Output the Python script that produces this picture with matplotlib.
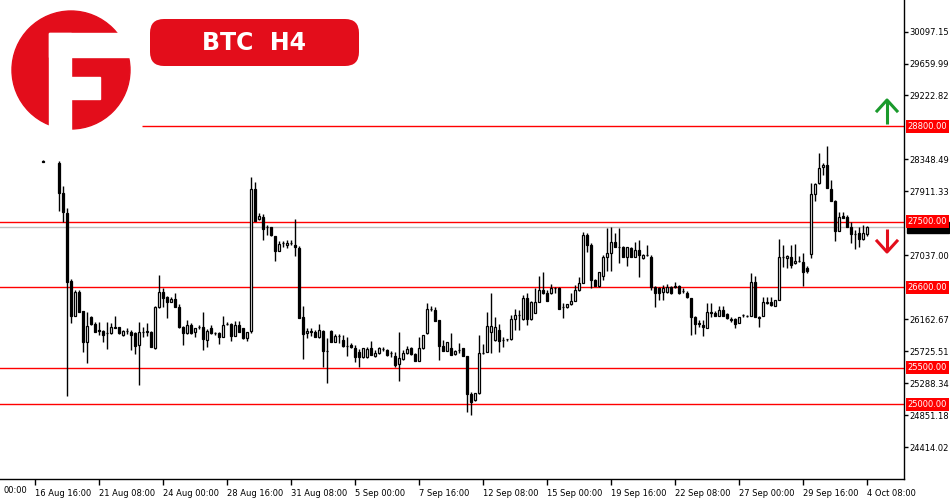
import numpy as np
import matplotlib
matplotlib.use("Agg")
from matplotlib import pyplot as plt
from matplotlib.patches import Circle, Rectangle, FancyBboxPatch

nan = np.nan
# BTC H4 candles, one value per bar (weekend bars are absent in the feed)
opens = [28327, nan, nan, nan, 28304, 27894, 27621, 26687, 26213, 26541,
         26277, 25858, 26191, 26095, 26011, 26004, 25977, 25973, 26052, 26054,
         25950, 26004, 25995, 25981, 25813, 25995, 25992, 25995, 25775, 26336,
         26537, 26473, 26405, 26441, 26336, 26063, 25973, 26086, 25986, 26052,
         26063, 25881, 26041, 25974, 25981, 25926, 26098, 26100, 25940, 26086,
         26041, 25904, 26004, 27941, 27531, 27566, 27423, 27421, 27302, 27097,
         27204, 27179, 27204, 27179, 27143, 26191, 25973, 25998, 25995, 25926,
         26008, 25737, 26008, 25858, 25936, 25881, 25799, 25813, 25767, 25717,
         25645, 25649, 25767, 25662, 25699, 25755, 25744, 25702, 25662, 25549,
         25621, 25699, 25767, 25689, 25597, 25767, 25973, 26302, 26291, 26154,
         25799, 25735, 25767, 25685, 25744, 25767, 25662, 25138, 25061, 25153,
         25707, 25721, 25995, 25881, 26018, 25881, 25888, 25891, 26164, 26223,
         26164, 26451, 26164, 26254, 26405, 26564, 26519, 26519, 26587, 26587,
         26330, 26328, 26373, 26418, 26564, 26665, 27316, 27179, 26701, 26619,
         26756, 27011, 27074, 27225, 27148, 27148, 27020, 27134, 27020, 27111,
         26998, 27043, 27016, 26601, 26587, 26541, 26541, 26601, 26619, 26619,
         26557, 26527, 26451, 26199, 26109, 26086, 26049, 26268, 26246, 26213,
         26291, 26232, 26164, 26168, 26117, 26216, 26209, 26213, 26670, 26199,
         26213, 26391, 26400, 26350, 26428, 27011, 27002, 27020, 26929, 26961,
         26943, 26861, 27052, 27877, 28023, 28241, 28273, 27941, 27785, 27375,
         27576, 27558, 27421, 27330, 27339, 27257, 27330]
highs = [28341, nan, nan, nan, 28327, 27986, 27681, 26715, 26564, 26564,
         26277, 26260, 26209, 26131, 26131, 26018, 26131, 26120, 26209, 26059,
         26018, 26045, 26011, 25990, 26131, 26054, 26120, 26004, 26346, 26770,
         26587, 26476, 26473, 26519, 26369, 26079, 26154, 26117, 26045, 26086,
         26260, 26031, 26086, 25995, 25990, 26213, 26131, 26113, 26145, 26145,
         26051, 25990, 28105, 28045, 27613, 27603, 27453, 27432, 27309, 27238,
         27234, 27248, 27248, 27531, 27166, 26346, 26041, 26041, 26018, 26095,
         26018, 25908, 26018, 25963, 25963, 25950, 25918, 25840, 25813, 25758,
         25772, 25785, 25871, 25744, 25789, 25785, 25758, 25735, 25721, 25995,
         25744, 25799, 25785, 25710, 25926, 25950, 26391, 26342, 26336, 26154,
         25881, 25854, 25977, 25744, 25840, 25775, 25662, 25174, 25157, 25950,
         25826, 26268, 26519, 26199, 26100, 25926, 25895, 26223, 26301, 26291,
         26496, 26519, 26420, 26587, 26756, 26815, 26564, 26646, 26609, 26605,
         26382, 26373, 26519, 26633, 26746, 27361, 27343, 27207, 26715, 26815,
         27043, 27407, 27429, 27339, 27408, 27166, 27152, 27152, 27225, 27248,
         27056, 27179, 27043, 26619, 26605, 26633, 26646, 26619, 26678, 26633,
         26592, 26551, 26459, 26209, 26154, 26154, 26387, 26391, 26277, 26346,
         26346, 26250, 26199, 26175, 26199, 26230, 26223, 26801, 26756, 26209,
         26473, 26473, 26473, 26428, 27261, 27179, 27043, 27179, 27193, 27029,
         27074, 26893, 28031, 28031, 28433, 28304, 28532, 28068, 27794, 27635,
         27626, 27589, 27498, 27384, 27421, 27453, 27439]
lows = [28314, nan, nan, nan, 27644, 27498, 25115, 26113, 26209, 26264,
        25721, 25570, 26086, 25990, 25950, 25854, 25758, 25963, 26041, 25963,
        25936, 25963, 25744, 25689, 25266, 25922, 25940, 25785, 25758, 26319,
        26336, 26182, 26394, 26332, 26049, 25813, 25963, 25963, 25926, 26031,
        25744, 25789, 25963, 25950, 25826, 25922, 26086, 25871, 25929, 25990,
        25899, 25871, 25973, 27507, 27521, 27248, 27316, 27302, 26964, 27091,
        27148, 27134, 27186, 27029, 26177, 25617, 25908, 25936, 25922, 25915,
        25508, 25289, 25854, 25847, 25844, 25792, 25662, 25772, 25584, 25516,
        25635, 25635, 25676, 25649, 25689, 25737, 25669, 25653, 25508, 25325,
        25614, 25689, 25682, 25594, 25589, 25758, 25963, 26284, 26145, 25607,
        25731, 25726, 25676, 25682, 25699, 25662, 24901, 24856, 25047, 25143,
        25696, 25717, 25699, 25867, 25721, 25789, 25861, 25881, 26018, 26018,
        26154, 26086, 26154, 26250, 26400, 26516, 26418, 26510, 26519, 26301,
        26177, 26318, 26360, 26414, 26551, 26660, 27088, 26592, 26619, 26605,
        26701, 26828, 26828, 27148, 26929, 27020, 26893, 27020, 27016, 26746,
        26988, 27029, 26564, 26336, 26428, 26428, 26523, 26516, 26592, 26516,
        26523, 26455, 25949, 25963, 26059, 25936, 26045, 26199, 26209, 26209,
        26209, 26168, 26131, 26045, 26113, 26202, 26195, 26209, 26199, 26063,
        26209, 26373, 26346, 26346, 26421, 26883, 26865, 26861, 26920, 26947,
        26623, 26797, 27002, 27785, 28013, 28136, 27955, 27785, 27238, 27371,
        27544, 27421, 27202, 27120, 27157, 27248, 27302]
closes = [28320, nan, nan, nan, 27894, 27635, 26678, 26213, 26533, 26268,
          25858, 26076, 26095, 25995, 25998, 25950, 25973, 26054, 26049, 25973,
          26004, 26008, 25950, 25803, 25995, 25992, 25998, 25789, 26336, 26533,
          26459, 26405, 26441, 26336, 26054, 25973, 26086, 25973, 26041, 26059,
          25890, 26004, 25973, 25971, 25918, 26086, 26101, 25940, 26086, 25995,
          25904, 25986, 27941, 27511, 27576, 27394, 27419, 27316, 27101, 27193,
          27201, 27211, 27210, 27148, 26177, 25963, 26008, 25993, 25926, 26018,
          25735, 25733, 25858, 25936, 25938, 25799, 25802, 25781, 25645, 25645,
          25767, 25758, 25676, 25707, 25767, 25752, 25676, 25699, 25539, 25631,
          25707, 25754, 25689, 25597, 25767, 25950, 26300, 26299, 26145, 25799,
          25735, 25858, 25676, 25735, 25741, 25662, 25138, 25037, 25153, 25699,
          25703, 26072, 26072, 26063, 25871, 25878, 25892, 26164, 26223, 26219,
          26451, 26164, 26405, 26405, 26564, 26519, 26418, 26587, 26585, 26301,
          26327, 26373, 26418, 26564, 26665, 27316, 27179, 26701, 26619, 26815,
          27011, 27074, 27225, 27148, 27150, 27020, 27148, 27020, 27111, 27043,
          27043, 27045, 26601, 26527, 26527, 26587, 26601, 26527, 26601, 26527,
          26553, 26464, 26199, 26095, 26093, 26054, 26268, 26246, 26213, 26291,
          26213, 26177, 26161, 26100, 26199, 26219, 26212, 26670, 26199, 26177,
          26396, 26400, 26355, 26428, 27011, 27020, 27029, 26906, 26961, 26965,
          26815, 26828, 27872, 28009, 28228, 28273, 27955, 27785, 27375, 27566,
          27544, 27421, 27330, 27327, 27257, 27339, 27430]

# support / resistance levels and the current bid line
levels = [28800, 27500, 26600, 25500, 25000]
bid = 27421.35
price_ticks = [30097.15, 29659.99, 29222.82, 28348.49, 27911.33, 27037.00,
               26162.67, 25725.51, 25288.34, 24851.18, 24414.02]
date_labels = ['16 Aug 16:00', '21 Aug 08:00', '24 Aug 00:00',
               '28 Aug 16:00', '31 Aug 08:00', '5 Sep 00:00', '7 Sep 16:00',
               '12 Sep 08:00', '15 Sep 00:00', '19 Sep 16:00', '22 Sep 08:00',
               '27 Sep 00:00', '29 Sep 16:00', '4 Oct 08:00']
date_tick_pos = np.arange(-2, 207, 16)
first_label = '00:00'  # tail of the date label left of the visible window

RED = '#e30d1b'
LINE_RED = '#ff0000'

plt.rcParams['font.family'] = ['DejaVu Sans']
fig = plt.figure(figsize=(9.5, 5), dpi=100)
ax = fig.add_axes([0, 21 / 500, 904 / 950, 479 / 500])

o = np.array(opens, float)
h = np.array(highs, float)
l = np.array(lows, float)
c = np.array(closes, float)
h = np.fmax(h, np.fmax(o, c))
l = np.fmin(l, np.fmin(o, c))
x = np.arange(len(o))
ok = ~np.isnan(o)
up = c >= o

ax.vlines(x[ok], l[ok], h[ok], color='black', linewidth=1, zorder=3)
ax.bar(x[ok], np.abs(c - o)[ok], bottom=np.fmin(o, c)[ok], width=0.55,
       color=np.where(up, 'white', 'black')[ok], edgecolor='black',
       linewidth=0.9, zorder=4)

# horizontal levels
ax.axhline(bid, color='#c0c0c0', linewidth=1, zorder=1)
for lv in levels:
    if lv == 28800:
        ax.hlines(lv, 24.75, 216, color=LINE_RED, linewidth=1, zorder=2)
    else:
        ax.axhline(lv, color=LINE_RED, linewidth=1, zorder=2)

for s in ['left', 'top']:
    ax.spines[s].set_visible(False)
ax.spines['right'].set_linewidth(1)
ax.spines['bottom'].set_linewidth(1)

ax.yaxis.tick_right()
ax.set_yticks(price_ticks)
ax.set_yticklabels([f'{p:.2f}' for p in price_ticks])
ax.tick_params(axis='y', direction='out', length=3, width=1, pad=1, labelsize=6)
ax.set_xticks(date_tick_pos)
ax.set_xticklabels(date_labels)
ax.tick_params(axis='x', direction='out', length=4, width=1, pad=3, labelsize=6)
for t in ax.get_xticklabels():
    t.set_ha('left')
ax.annotate(first_label, xy=(3 / 904, 0), xycoords='axes fraction',
            xytext=(0, -5.1), textcoords='offset points', fontsize=6,
            ha='left', va='top', annotation_clip=False)

# limits after the ticks, so the tick list does not widen them
ax.set_xlim(-10.75, 215.25)
ax.set_ylim(23981, 30528)

# price labels at the right edge (bid box sits mostly under the 27500 label)
tr = ax.get_yaxis_transform()
ax.add_patch(Rectangle((1.003, bid - 75), 0.047, 150, transform=tr,
                       color='black', clip_on=False, zorder=5))
for lv in levels:
    ax.text(1.004, lv, f'{lv:.2f}', transform=tr, color='white', fontsize=6,
            va='center', ha='left', clip_on=False, zorder=6,
            bbox=dict(boxstyle='square,pad=0.25', fc=LINE_RED, ec='none'))

# overlay in pixel units for logo, title badge and arrows
ov = fig.add_axes([0, 0, 1, 1], facecolor='none')
ov.set_xlim(0, 950)
ov.set_ylim(500, 0)
ov.axis('off')

ov.add_patch(Circle((71, 70), 59, color=RED))
ov.add_patch(Rectangle((49, 33), 22, 100, color='white'))
ov.add_patch(Rectangle((49, 33), 92, 24, color='white'))
ov.add_patch(Rectangle((71, 77), 29, 22, color='white'))

ov.add_patch(FancyBboxPatch((150, 19), 209, 47,
                            boxstyle='round,pad=0,rounding_size=14',
                            fc=RED, ec='none'))
ov.text(254, 43, 'BTC  H4', color='white', fontsize=17, fontweight='bold',
        ha='center', va='center')

GREEN = '#1a9a2c'
ov.plot([887, 887], [124, 101], color=GREEN, linewidth=2.2, solid_capstyle='butt')
ov.plot([877, 887, 897], [111, 100, 111], color=GREEN, linewidth=2.2)
ov.plot([887, 887], [229, 251], color=RED, linewidth=2.2, solid_capstyle='butt')
ov.plot([877, 887, 897], [241, 252, 241], color=RED, linewidth=2.2)

fig.savefig('out.png', dpi=100)
